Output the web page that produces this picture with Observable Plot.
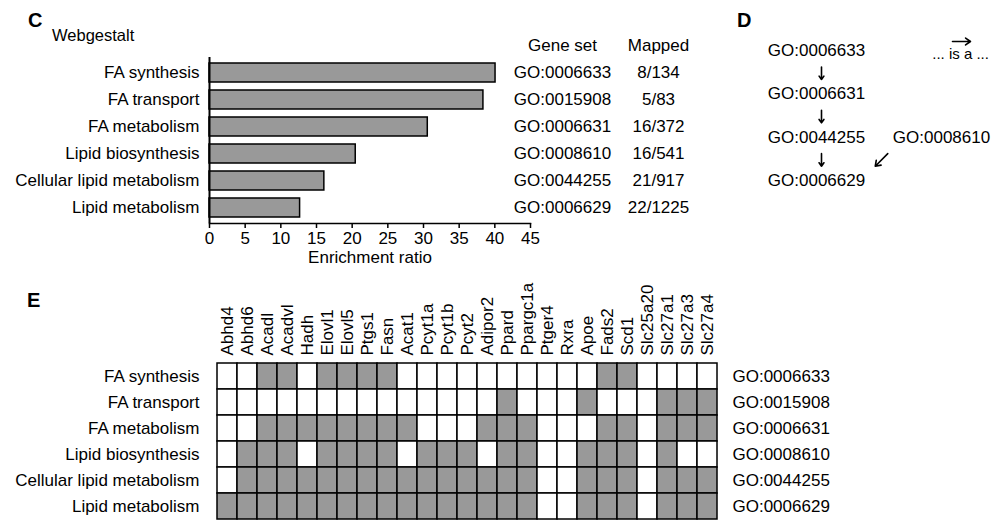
<!DOCTYPE html>
<html><head><meta charset="utf-8">
<script src="https://cdn.jsdelivr.net/npm/d3@7"></script>
<script src="https://cdn.jsdelivr.net/npm/@observablehq/plot@0.6"></script>
<style>
html,body{margin:0;padding:0;overflow:hidden;background:#fff;}
#fig{position:relative;width:1000px;height:520px;font-family:"Liberation Sans",Arial,sans-serif;color:#000;overflow:hidden;}
.panel{position:absolute;}
.lbl{position:absolute;font-weight:bold;font-size:20px;line-height:1;}
.txt{position:absolute;line-height:1;white-space:nowrap;}
</style></head><body><div id="fig"></div>
<script>
// ---------- data ----------
const terms = ["FA synthesis","FA transport","FA metabolism","Lipid biosynthesis","Cellular lipid metabolism","Lipid metabolism"];
const goIds = ["GO:0006633","GO:0015908","GO:0006631","GO:0008610","GO:0044255","GO:0006629"];
const enrichment = [40.1, 38.4, 30.6, 20.5, 16.1, 12.7];
const mapped = ["8/134","5/83","16/372","16/541","21/917","22/1225"];
const xTicks = [0,5,10,15,20,25,30,35,40,45];
const tableHeaders = ["Gene set","Mapped"];

const genes = ["Abhd4","Abhd6","Acadl","Acadvl","Hadh","Elovl1","Elovl5","Ptgs1","Fasn","Acat1","Pcyt1a","Pcyt1b","Pcyt2","Adipor2","Ppard","Ppargc1a","Ptger4","Rxra","Apoe","Fads2","Scd1","Slc25a20","Slc27a1","Slc27a3","Slc27a4"];
const membership = [
  [0,0,1,1,0,1,1,1,1,0,0,0,0,0,0,0,0,0,0,1,1,0,0,0,0],
  [0,0,0,0,0,0,0,0,0,0,0,0,0,0,1,0,0,0,1,0,0,0,1,1,1],
  [0,0,1,1,1,1,1,1,1,1,0,0,0,1,1,1,0,0,0,1,1,0,1,1,1],
  [0,1,1,1,0,1,1,1,1,0,1,1,1,0,1,1,0,0,1,1,1,0,1,0,0],
  [0,1,1,1,1,1,1,1,1,1,1,1,1,1,1,1,0,0,1,1,1,0,1,1,1],
  [1,1,1,1,1,1,1,1,1,1,1,1,1,1,1,1,0,0,1,1,1,0,1,1,1]
];

const hierNodes = ["GO:0006633","GO:0006631","GO:0044255","GO:0006629","GO:0008610"];
const hierCol = [0,0,0,0,1];
const hierRow = [0,1,2,3,2];
const hierEdges = [["GO:0006633","GO:0006631"],["GO:0006631","GO:0044255"],["GO:0044255","GO:0006629"],["GO:0008610","GO:0006629"]];
const legendText = "... is a ...";

// ---------- build ----------
const font = "'Liberation Sans', Arial, sans-serif";
const baseStyle = {fontFamily: font, fontSize: "17px", background: "transparent", overflow: "visible", color: "#000"};
const fig = document.getElementById("fig");
function place(node, left, top) {
  const d = document.createElement("div");
  d.className = "panel"; d.style.left = left + "px"; d.style.top = top + "px";
  d.appendChild(node); fig.appendChild(d);
}
function label(text, left, top, cls, size) {
  const d = document.createElement("div");
  d.className = cls; d.textContent = text;
  d.style.left = left + "px"; d.style.top = top + "px";
  if (size) d.style.fontSize = size + "px";
  fig.appendChild(d); return d;
}

// Panel C
const barData = terms.map((t, i) => ({term: t, ratio: enrichment[i], go: goIds[i], mapped: mapped[i]}));
const plotC = Plot.plot({
  width: 720, height: 270,
  marginLeft: 209, marginRight: 190, marginTop: 57, marginBottom: 47,
  style: baseStyle,
  x: {domain: [0, 45], label: null},
  y: {domain: terms, paddingInner: 0.31, paddingOuter: 0.18, label: null},
  marks: [
    Plot.barX(barData, {x: "ratio", y: "term", fill: "#999", stroke: "#000", strokeWidth: 1.5}),
    Plot.axisY({tickSize: 0, tickPadding: 10, label: null}),
    Plot.axisX({ticks: xTicks, tickSize: 5, tickPadding: 3, label: null, strokeWidth: 1.5}),
    Plot.ruleX([0], {strokeWidth: 2}),
    Plot.frame({anchor: "bottom", strokeWidth: 1.5}),
    Plot.text(["Enrichment ratio"], {frameAnchor: "bottom", lineAnchor: "middle", dy: 34, text: d => d}),
    Plot.text(barData, {x: () => 45, y: "term", text: "go", dx: 32}),
    Plot.text(barData, {x: () => 45, y: "term", text: "mapped", dx: 128}),
    Plot.text([tableHeaders[0]], {x: () => 45, frameAnchor: "top", lineAnchor: "middle", dy: -12, dx: 32, text: d => d}),
    Plot.text([tableHeaders[1]], {x: () => 45, frameAnchor: "top", lineAnchor: "middle", dy: -12, dx: 128, text: d => d})
  ]
});
place(plotC, 0, 0);

// Panel D
const nodeData = hierNodes.map((id, i) => ({id, col: hierCol[i], row: hierRow[i]}));
const byId = Object.fromEntries(nodeData.map(d => [d.id, d]));
const lerp = (a, b, t) => a + (b - a) * t;
const edgeData = hierEdges.map(([s, t]) => {
  const a = byId[s], b = byId[t];
  return {x1: lerp(a.col, b.col, 0.47), x2: lerp(a.col, b.col, 0.57), y1: a.row + 0.38, y2: a.row + 0.67};
});
const plotD = Plot.plot({
  width: 300, height: 220,
  marginLeft: 0, marginRight: 0, marginTop: 0, marginBottom: 0,
  style: baseStyle,
  x: {domain: [0, 1], range: [116, 241], axis: null},
  y: {domain: [0, 3], range: [50, 180], axis: null},
  marks: [
    Plot.text(nodeData, {x: "col", y: "row", text: "id"}),
    Plot.arrow(edgeData, {x1: "x1", y1: "y1", x2: "x2", y2: "y2", dx: 5, stroke: "#000", strokeWidth: 1.6, headLength: 7, headAngle: 70})
  ]
});
place(plotD, 700, 0);

// Panel D legend: "... is a ..." sample arrow
const legendPlot = Plot.plot({
  width: 60, height: 30,
  marginLeft: 0, marginRight: 0, marginTop: 0, marginBottom: 0,
  style: {...baseStyle, fontSize: "15px"},
  x: {domain: [0, 1], range: [22, 40], axis: null},
  y: {domain: [0, 1], range: [8, 21], axis: null},
  marks: [
    Plot.arrow([{from: 0, to: 1}], {x1: "from", x2: "to", y1: () => 0, y2: () => 0, stroke: "#000", strokeWidth: 1.6, headLength: 7, headAngle: 70}),
    Plot.text([legendText], {x: () => 0.45, y: () => 1, text: d => d})
  ]
});
place(legendPlot, 930, 33);

// Panel E
const cellData = [];
terms.forEach((t, i) => genes.forEach((g, j) => cellData.push({term: t, gene: g, hit: membership[i][j]})));
const plotE = Plot.plot({
  width: 1000, height: 240,
  marginLeft: 209, marginRight: 275, marginTop: 83, marginBottom: 1,
  style: baseStyle,
  x: {domain: genes, padding: 0, label: null},
  y: {domain: terms, padding: 0, label: null},
  color: {type: "ordinal", domain: [0, 1], range: ["#fff", "#999"]},
  marks: [
    Plot.cell(cellData, {x: "gene", y: "term", fill: "hit", stroke: "#000", strokeWidth: 1.5}),
    Plot.axisX({anchor: "top", tickRotate: -90, tickSize: 0, tickPadding: 8, label: null}),
    Plot.axisY({anchor: "left", tickSize: 0, tickPadding: 10, label: null}),
    Plot.axisY({anchor: "right", tickSize: 0, tickPadding: 7, label: null, tickFormat: t => goIds[terms.indexOf(t)]})
  ]
});
place(plotE, 0, 280);

// Panel letters, subtitle
label("C", 28, 10, "lbl");
label("D", 737, 10, "lbl");
label("E", 27, 290, "lbl");
label("Webgestalt", 52, 27, "txt", 16.5);
</script>
</body></html>
